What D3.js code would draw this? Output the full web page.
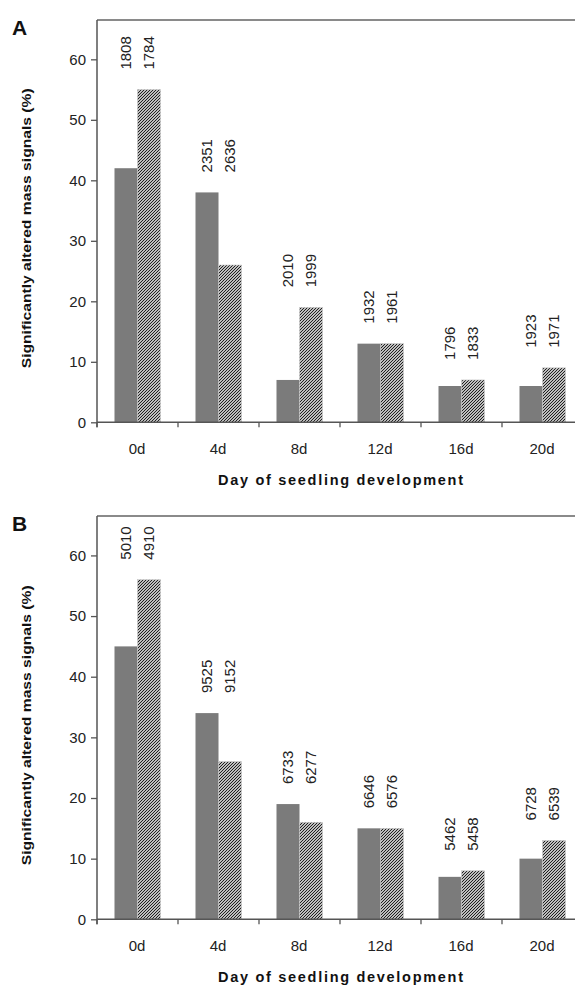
<!DOCTYPE html>
<html>
<head>
<meta charset="utf-8">
<script src="https://cdn.jsdelivr.net/npm/d3@7"></script>
<style>
  html, body { margin: 0; padding: 0; background: #fff; }
  svg { display: block; font-family: "Liberation Sans", Arial, sans-serif; }
</style>
</head>
<body>
<svg id="chart" width="575" height="988"></svg>
<script>
// ---- data ----
const days = ["0d", "4d", "8d", "12d", "16d", "20d"];
const seriesKeys = ["solid", "hatched"];
const yTicks = [0, 10, 20, 30, 40, 50, 60];

const aSolid   = [42, 38, 7, 13, 6, 6];
const aHatched = [55, 26, 19, 13, 7, 9];
const aSolidN   = [1808, 2351, 2010, 1932, 1796, 1923];
const aHatchedN = [1784, 2636, 1999, 1961, 1833, 1971];

const bSolid   = [45, 34, 19, 15, 7, 10];
const bHatched = [56, 26, 16, 15, 8, 13];
const bSolidN   = [5010, 9525, 6733, 6646, 5462, 6728];
const bHatchedN = [4910, 9152, 6277, 6576, 5458, 6539];

const yTitle = "Significantly altered mass signals (%)";
const xTitle = "Day of seedling development";

// ---- drawing ----
const svg = d3.select("#chart");
const defs = svg.append("defs");
const pat = defs.append("pattern")
  .attr("id", "hatch").attr("patternUnits", "userSpaceOnUse")
  .attr("width", 3).attr("height", 3);
pat.append("rect").attr("width", 3).attr("height", 3).attr("fill", "#fff");
pat.append("path").attr("d", "M-1,1 L1,-1 M0,3 L3,0 M2,4 L4,2")
  .attr("stroke", "#111").attr("stroke-width", 1.05);

const panels = [
  { letter: "A", top: 20, bottom: 422.3, solid: aSolid, hatched: aHatched, solidN: aSolidN, hatchedN: aHatchedN },
  { letter: "B", top: 516, bottom: 919.3, solid: bSolid, hatched: bHatched, solidN: bSolidN, hatchedN: bHatchedN }
];

const left = 97, right = 583, yMax = 66.5;

panels.forEach(p => {
  const g = svg.append("g");
  const x0 = d3.scaleBand().domain(days).range([left, right]).padding(0);
  const xi = d3.scaleBand().domain(seriesKeys).range([17.5, 63.5]).padding(0);
  const y = d3.scaleLinear().domain([0, yMax]).range([p.bottom, p.top]);

  // top frame line
  g.append("line").attr("x1", left).attr("x2", 575).attr("y1", p.top).attr("y2", p.top)
    .attr("stroke", "#8a8a8a").attr("stroke-width", 2);

  // bars
  days.forEach((d, i) => {
    const vals = { solid: p.solid[i], hatched: p.hatched[i] };
    const ns = { solid: p.solidN[i], hatched: p.hatchedN[i] };
    const maxV = Math.max(vals.solid, vals.hatched);
    seriesKeys.forEach(k => {
      g.append("rect")
        .attr("x", x0(d) + xi(k))
        .attr("width", xi.bandwidth())
        .attr("y", y(vals[k]))
        .attr("height", y(0) - y(vals[k]))
        .attr("fill", k === "solid" ? "#7b7b7b" : "url(#hatch)")
        .attr("stroke", k === "solid" ? "none" : "#c8c8c8")
        .attr("stroke-width", 0.6);
      const cx = x0(d) + xi(k) + xi.bandwidth() / 2;
      const ly = y(maxV) - 20;
      g.append("text")
        .attr("transform", `translate(${cx},${ly}) rotate(-90)`)
        .attr("dy", "0.35em")
        .attr("text-anchor", "start")
        .attr("font-size", 15)
        .attr("fill", "#222")
        .text(ns[k]);
    });
  });

  // y axis
  const yAxis = d3.axisLeft(y).tickValues(yTicks).tickSize(6).tickPadding(5).tickFormat(d3.format("d"));
  const ya = g.append("g").attr("transform", `translate(${left},0)`).call(yAxis);
  ya.select(".domain").remove();
  ya.selectAll(".tick line").attr("stroke", "#555").attr("stroke-width", 1.3);
  ya.selectAll(".tick text").attr("font-size", 15).attr("fill", "#222").attr("font-family", "Liberation Sans, Arial, sans-serif");
  g.append("line").attr("x1", left).attr("x2", left).attr("y1", p.top).attr("y2", p.bottom + 5)
    .attr("stroke", "#555").attr("stroke-width", 1.5);

  // x axis
  g.append("line").attr("x1", left).attr("x2", 575).attr("y1", p.bottom).attr("y2", p.bottom)
    .attr("stroke", "#555").attr("stroke-width", 1.5);
  days.forEach(d => {
    g.append("line").attr("x1", x0(d)).attr("x2", x0(d)).attr("y1", p.bottom).attr("y2", p.bottom + 5)
      .attr("stroke", "#555").attr("stroke-width", 1.3);
    g.append("text")
      .attr("x", x0(d) + x0.bandwidth() / 2 - 0.5)
      .attr("y", p.bottom + 32)
      .attr("text-anchor", "middle")
      .attr("font-size", 15)
      .attr("fill", "#222")
      .text(d);
  });

  // axis titles
  g.append("text")
    .attr("x", 340.5).attr("y", p.bottom + 63)
    .attr("text-anchor", "middle")
    .attr("font-size", 14.5).attr("font-weight", "bold").attr("fill", "#111")
    .attr("textLength", 245).attr("lengthAdjust", "spacing")
    .text(xTitle);
  g.append("text")
    .attr("transform", `translate(31,${p.bottom - 194}) rotate(-90)`)
    .attr("text-anchor", "middle")
    .attr("font-size", 13.5).attr("font-weight", "bold").attr("fill", "#111")
    .attr("textLength", 280).attr("lengthAdjust", "spacingAndGlyphs")
    .text(yTitle);

  // panel letter
  g.append("text")
    .attr("x", 12).attr("y", p.top + 15)
    .attr("font-size", 21).attr("font-weight", "bold").attr("fill", "#111")
    .text(p.letter);
});
</script>
</body>
</html>
